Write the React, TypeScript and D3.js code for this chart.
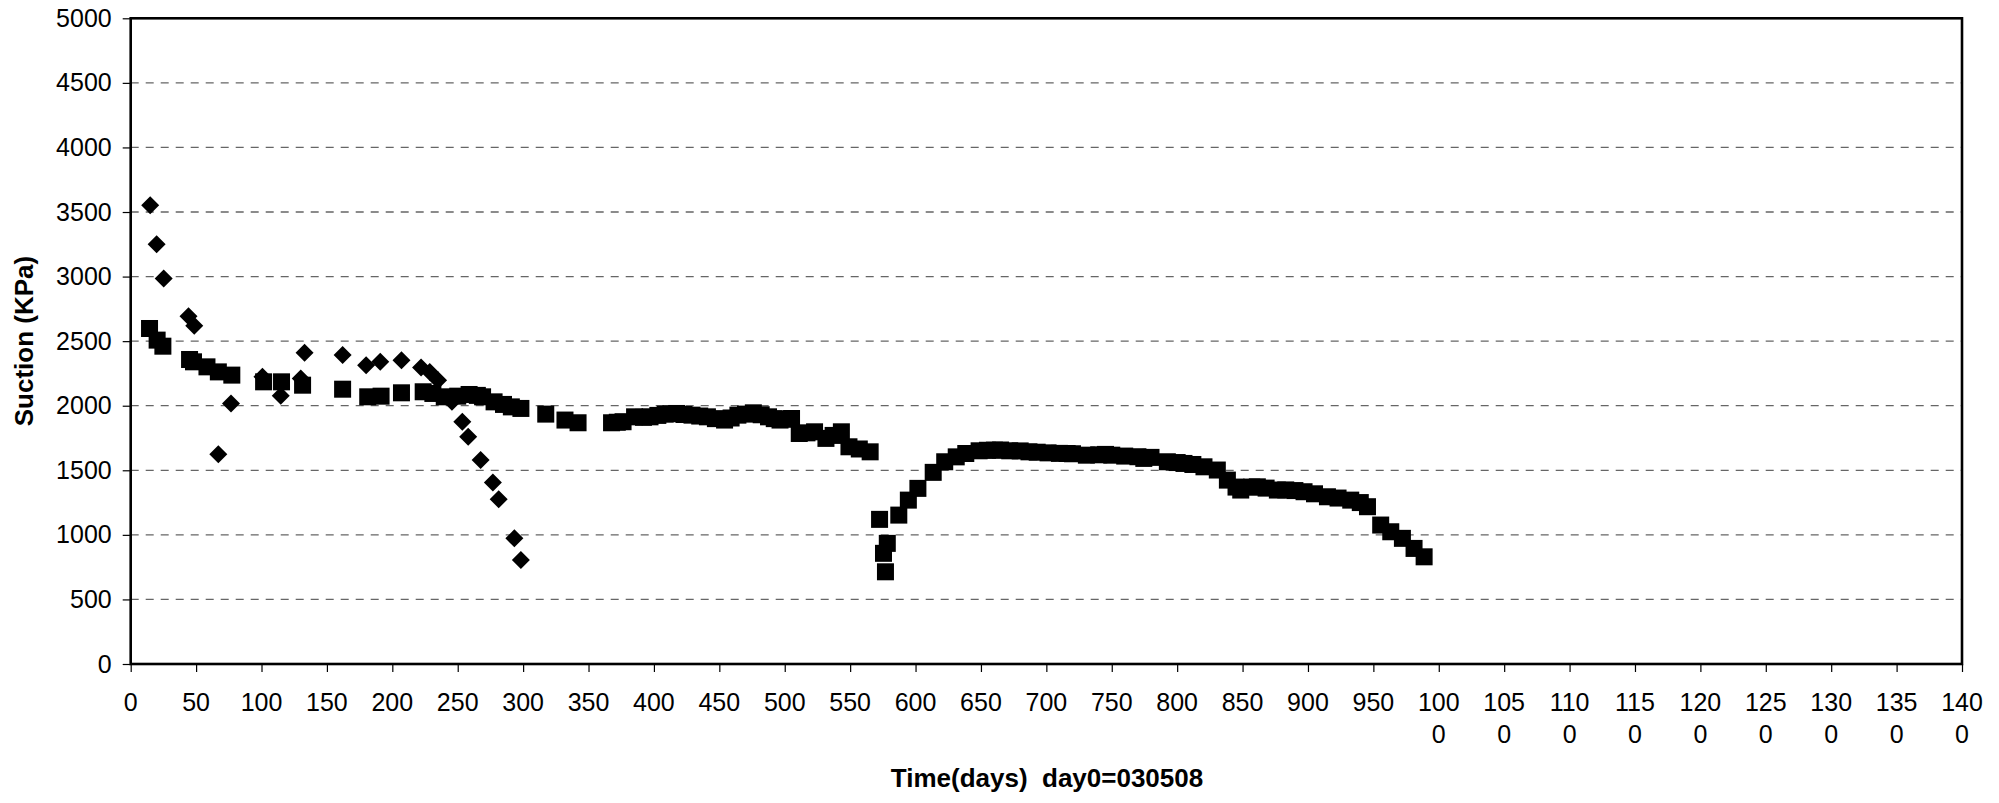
import { useEffect, useRef } from 'react'
import * as d3 from 'd3'

// square series (days, kPa)
const squareDays = [
  14.4, 20.2, 24.6, 45, 48, 58.3, 67, 77.3, 101.6, 115.3, 131.4, 162, 181.2, 191.4, 207, 223.6,
  231, 239.7, 250, 258.7, 265, 269, 277.8, 285, 291, 298.3, 317.3, 332, 342, 367.6, 372, 376.4,
  385.2, 392, 397, 403, 408.6, 413, 417.4, 423, 429.1, 435, 440.9, 447, 454, 459, 464.2, 470, 476,
  482, 487.6, 492, 496.4, 500, 505.2, 511.1, 517, 522.8, 531.5, 537, 543.3, 549.1, 557, 565.3,
  572.5, 575.5, 577, 578.4, 587.2, 594.5, 601.8, 613.5, 622.3, 631.1, 638.4, 648.6, 655, 660.3,
  665, 672, 680, 686.7, 693, 701.3, 710, 715.9, 720, 730.6, 740, 745.2, 750, 759.9, 770, 774.5,
  780, 792.5, 800, 805.2, 812, 820.5, 830.7, 838.4, 845, 848.6, 857, 861.3, 868, 876.6, 883, 890,
  897, 905, 914.9, 923, 932.7, 940, 945.5, 955.6, 963.3, 972.2, 981.1, 988.8,
]
const squareKpa = [
  2598, 2508, 2461, 2358, 2340, 2301, 2262, 2237, 2185, 2185, 2159, 2128, 2069, 2074, 2100, 2108,
  2095, 2069, 2074, 2087, 2080, 2069, 2030, 2010, 1991, 1979, 1935, 1889, 1868, 1868, 1872, 1876,
  1914, 1910, 1914, 1925, 1935, 1938, 1940, 1932, 1927, 1920, 1914, 1900, 1889, 1905, 1927, 1935,
  1945, 1930, 1914, 1900, 1889, 1895, 1901, 1785, 1790, 1798, 1747, 1770, 1798, 1682, 1665, 1643,
  1120, 857, 714, 934, 1153, 1269, 1360, 1484, 1566, 1604, 1630, 1651, 1655, 1656,
  1657, 1651, 1650, 1643, 1640, 1635, 1631, 1630, 1628, 1617, 1620, 1623, 1617, 1610, 1605, 1592,
  1600, 1566, 1560, 1553, 1545, 1527, 1502, 1424, 1370, 1347, 1370, 1372, 1362, 1347, 1348, 1343,
  1334, 1318, 1295, 1285, 1269, 1250, 1218, 1076, 1024, 973, 895, 830,
]

// diamond series (days, kPa)
const diamondDays = [
  14.9, 19.8, 25.2, 44.2, 48.6, 67, 76.7, 100.7, 114.7, 130, 132.9, 162, 180, 190.8, 207, 222,
  228.6, 235, 245.6, 253.5, 258, 267.5, 276.9, 281.3, 293.3, 298.3,
]
const diamondKpa = [
  3553, 3250, 2985, 2693, 2619, 1625, 2018, 2224, 2077, 2211, 2410, 2392, 2314, 2340, 2353, 2296,
  2262, 2198, 2030, 1876, 1759, 1579, 1406, 1275, 973, 805,
]

const xTicks = d3.range(0, 1401, 50)
const yTicks = d3.range(0, 5001, 500)

const FONT = '"Liberation Sans", Arial, sans-serif'

export default function App() {
  const svgRef = useRef<SVGSVGElement>(null)

  useEffect(() => {
    const svg = d3.select(svgRef.current)
    svg.selectAll('*').remove()

    const left = 130.7, right = 1962, top = 18.3, bottom = 664

    const x = d3.scaleLinear().domain([0, 1400]).range([left, right])
    const y = d3.scaleLinear().domain([0, 5000]).range([bottom, top])

    svg.append('rect').attr('width', 1999).attr('height', 803).attr('fill', '#fff')

    // gridlines
    svg.append('g')
      .selectAll('line')
      .data(yTicks.filter((t) => t > 0 && t < 5000))
      .join('line')
      .attr('x1', left).attr('x2', right)
      .attr('y1', (d) => y(d)).attr('y2', (d) => y(d))
      .attr('stroke', '#666')
      .attr('stroke-width', 1.3)
      .attr('stroke-dasharray', '8,7')

    // y axis
    svg.append('g')
      .attr('transform', `translate(${left},0)`)
      .call(d3.axisLeft(y).tickValues(yTicks).tickSize(8).tickPadding(11).tickFormat(d3.format('d')))
      .call((g) => g.select('.domain').remove())
      .call((g) => g.selectAll('line').attr('stroke', '#000').attr('stroke-width', 1.2))
      .call((g) => g.selectAll('text').attr('font-size', 25).attr('font-family', FONT).attr('fill', '#000'))

    // x axis, labels drawn separately
    svg.append('g')
      .attr('transform', `translate(0,${bottom})`)
      .call(d3.axisBottom(x).tickValues(xTicks).tickSize(8).tickFormat(() => ''))
      .call((g) => g.select('.domain').remove())
      .call((g) => g.selectAll('line').attr('stroke', '#000').attr('stroke-width', 1.2))

    const xl = svg.append('g')
      .attr('font-size', 25).attr('font-family', FONT).attr('fill', '#000')
      .attr('text-anchor', 'middle')
    xTicks.forEach((t) => {
      const s = String(t)
      const tx = xl.append('text').attr('x', x(t)).attr('y', bottom + 46.5)
      if (s.length > 3) {
        tx.append('tspan').attr('x', x(t)).text(s.slice(0, 3))
        tx.append('tspan').attr('x', x(t)).attr('dy', 32.6).text(s.slice(3))
      } else {
        tx.text(s)
      }
    })

    // plot frame
    svg.append('rect')
      .attr('x', left).attr('y', top)
      .attr('width', right - left).attr('height', bottom - top)
      .attr('fill', 'none').attr('stroke', '#000').attr('stroke-width', 2.6)

    // squares
    const sq = 17
    svg.append('g')
      .selectAll('rect')
      .data(squareDays.map((d, i) => [d, squareKpa[i]]))
      .join('rect')
      .attr('x', (d) => x(d[0]) - sq / 2)
      .attr('y', (d) => y(d[1]) - sq / 2)
      .attr('width', sq).attr('height', sq)
      .attr('fill', '#000')

    // diamonds
    const r = 9
    svg.append('g')
      .selectAll('path')
      .data(diamondDays.map((d, i) => [d, diamondKpa[i]]))
      .join('path')
      .attr('d', (d) => {
        const cx = x(d[0]), cy = y(d[1])
        return `M${cx},${cy - r}L${cx + r},${cy}L${cx},${cy + r}L${cx - r},${cy}Z`
      })
      .attr('fill', '#000')

    // titles
    svg.append('text')
      .attr('transform', `translate(33,341) rotate(-90)`)
      .attr('text-anchor', 'middle')
      .attr('font-size', 26).attr('font-weight', 'bold').attr('font-family', FONT)
      .text('Suction (KPa)')

    svg.append('text')
      .attr('x', 1047).attr('y', 787)
      .attr('text-anchor', 'middle')
      .attr('font-size', 26).attr('font-weight', 'bold').attr('font-family', FONT)
      .style('white-space', 'pre')
      .text('Time(days)  day0=030508')
  }, [])

  return (
    <svg
      ref={svgRef}
      width={1999}
      height={803}
      style={{ position: 'absolute', left: 0, top: 0, display: 'block' }}
    />
  )
}
